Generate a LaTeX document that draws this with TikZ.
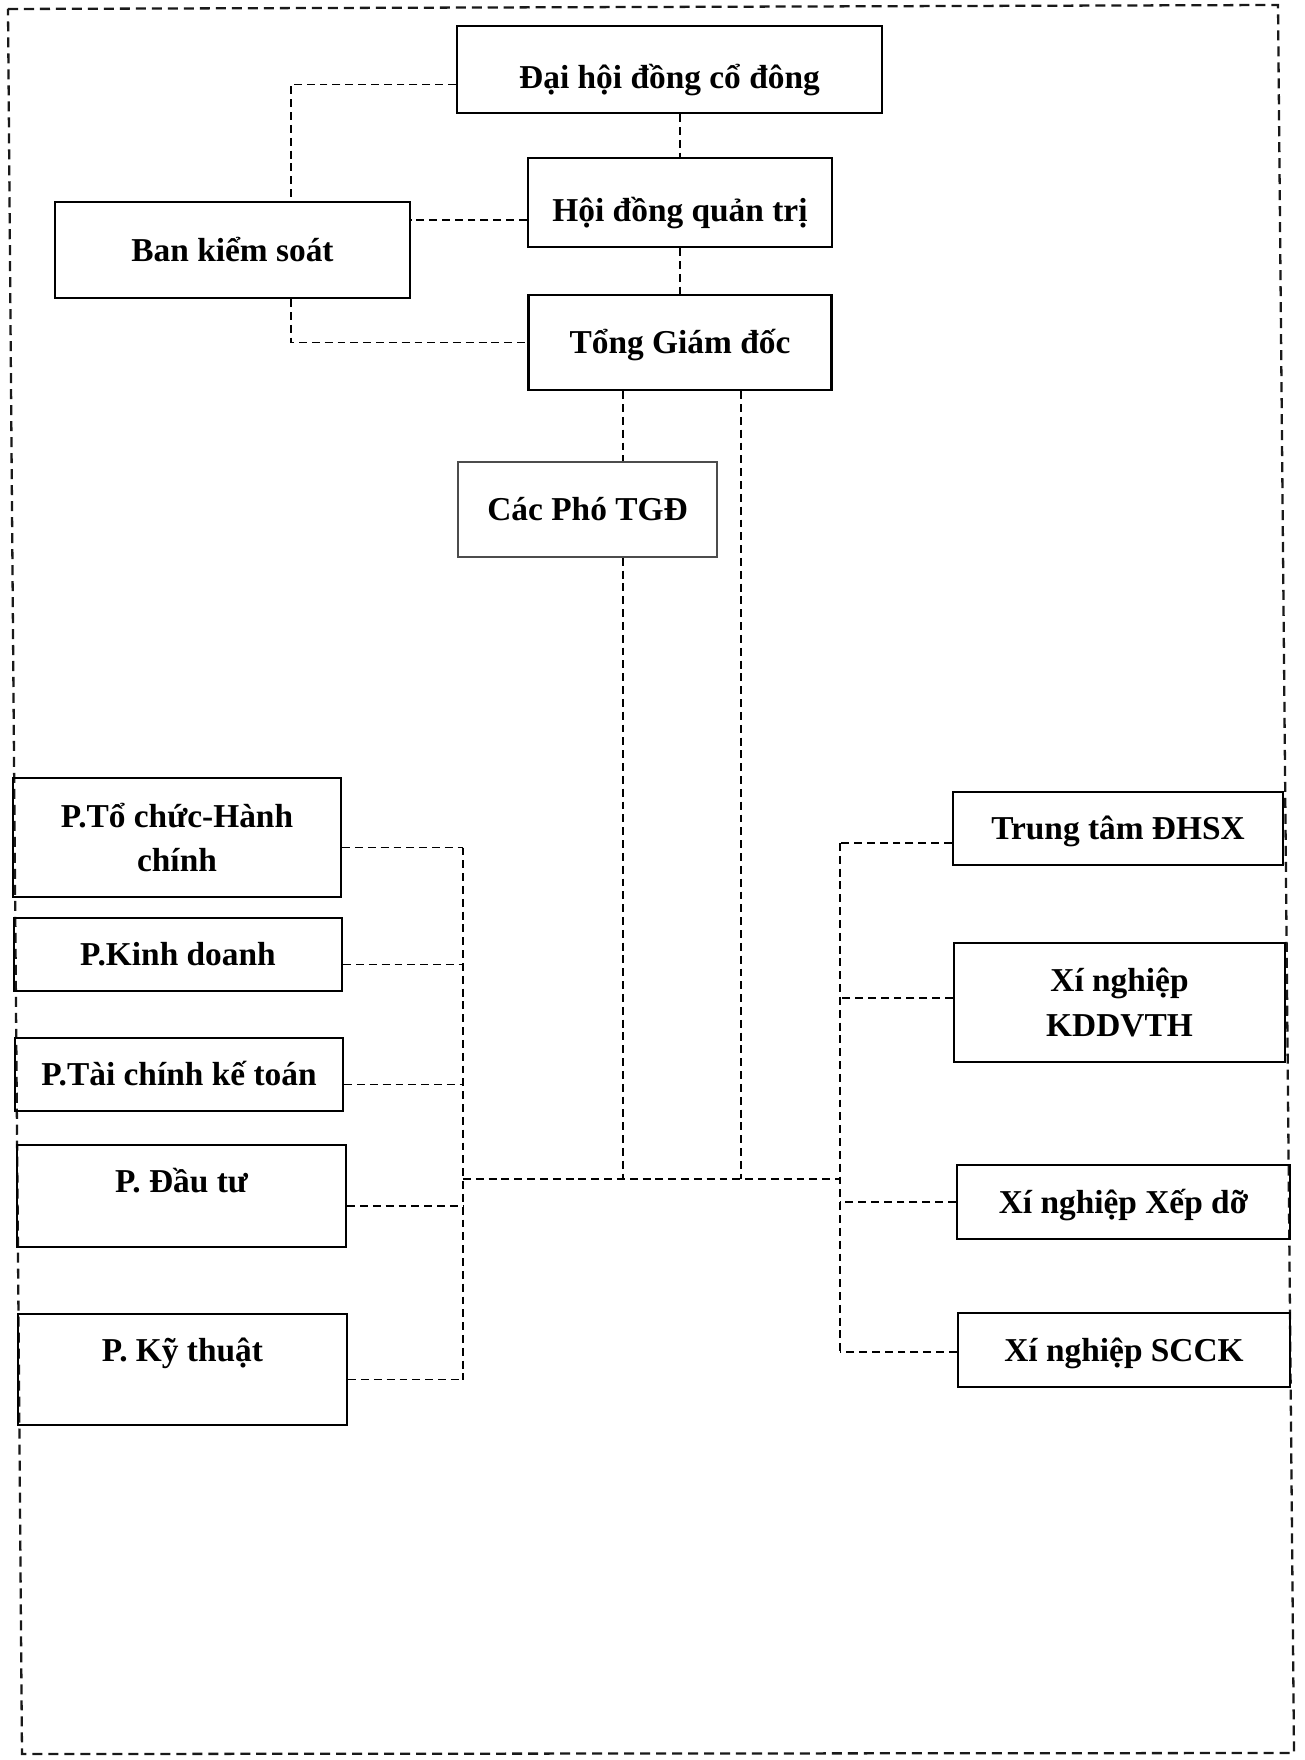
\documentclass[tikz,border=0pt]{standalone}
\usepackage{fontspec}
\setmainfont{Liberation Serif}
\usetikzlibrary{positioning}

\begin{document}
\begin{tikzpicture}[
  unit/.style={
    draw=black, line width=1.4pt, inner sep=0pt, align=center,
    font=\bfseries\fontsize{19}{25.5}\selectfont
  },
  single/.style={unit, text height=17pt, text depth=4.4pt},
  link/.style={draw=black, line width=1.1pt, dash pattern=on 4.5pt off 2.8pt},
  frame/.style={draw=black!90, line width=1.3pt, dash pattern=on 5.7pt off 3.4pt},
]
\useasboundingbox (0,0) rectangle (26.08,-35.2);

% outer dashed frame (the scan is a little tilted)
\draw[frame] (0.16,-0.18) -- (25.56,-0.10) -- (25.88,-35.06) -- (0.44,-35.08) -- cycle;

% management
\node[single, minimum width=8.5cm,  minimum height=1.74cm, text height=26pt] (dhcd) at (13.39,-1.39)  {Đại hội đồng cổ đông};
\node[single, minimum width=6.08cm, minimum height=1.78cm, text height=26pt] (hdqt) at (13.60,-4.05)  {Hội đồng quản trị};
\node[single, minimum width=7.1cm,  minimum height=1.92cm] (bks)  at (4.65,-5.00)   {Ban kiểm soát};
\node[single, minimum width=6.06cm, minimum height=1.90cm] (tgd)  at (13.60,-6.85)  {Tổng Giám đốc};
\node[single, minimum width=5.18cm, minimum height=1.90cm, draw=black!70, line width=0.9pt] (pho) at (11.75,-10.19) {Các Phó TGĐ};

% departments (left)
\node[unit,   minimum width=6.56cm, minimum height=2.38cm] (tchc) at (3.54,-16.75) {P.Tổ chức-Hành\\chính};
\node[single, minimum width=6.56cm, minimum height=1.46cm] (kd)   at (3.56,-19.09) {P.Kinh doanh};
\node[single, minimum width=6.56cm, minimum height=1.46cm] (tckt) at (3.58,-21.49) {P.Tài chính kế toán};
\node[single, minimum width=6.58cm, minimum height=2.04cm, text depth=20.8pt] (dt) at (3.63,-23.92) {P. Đầu tư};
\node[single, minimum width=6.58cm, minimum height=2.22cm, text depth=26.4pt] (kt) at (3.65,-27.39) {P. Kỹ thuật};

% units (right)
\node[single, minimum width=6.60cm, minimum height=1.46cm] (dhsx)   at (22.36,-16.57) {Trung tâm ĐHSX};
\node[unit,   minimum width=6.62cm, minimum height=2.38cm] (kddvth) at (22.39,-20.05) {Xí nghiệp\\KDDVTH};
\node[single, minimum width=6.66cm, minimum height=1.48cm] (xepdo)  at (22.47,-24.04) {Xí nghiệp Xếp dỡ};
\node[single, minimum width=6.64cm, minimum height=1.48cm] (scck)   at (22.48,-27.00) {Xí nghiệp SCCK};

% governance links
\draw[link] ([yshift=-0.3cm]dhcd.west) -| ([xshift=1.17cm]bks.north);
\draw[link] (hdqt.north |- dhcd.south) -- (hdqt.north);
\draw[link] (hdqt.south) -- (tgd.north);
\draw[link] ([yshift=-0.35cm]hdqt.west) -- ([yshift=-0.35cm]hdqt.west -| bks.east);
\draw[link] ([xshift=1.17cm]bks.south) |- (tgd.west);

% down to the bus
\coordinate (lbus) at (9.26,-23.58);
\coordinate (rbus) at (16.80,-23.58);
\coordinate (ptop) at ([xshift=0.71cm]pho.north);
\coordinate (pbot) at ([xshift=0.71cm]pho.south);
\coordinate (gbot) at ([xshift=1.22cm]tgd.south);
\draw[link] (ptop |- tgd.south) -- (ptop);
\draw[link] (pbot) -- (pbot |- lbus);
\draw[link] (gbot) -- (gbot |- rbus);
\draw[link] (lbus) -- (rbus);

% left column
\draw[link] ([yshift=-0.2cm]tchc.east -| lbus) -- ([yshift=-0.2cm]kt.east -| lbus);
\foreach \d in {tchc,kd,tckt,dt,kt}
  \draw[link] ([yshift=-0.2cm]\d.east) -- ([yshift=-0.2cm]\d.east -| lbus);

% right column
\draw[link] ([yshift=-0.29cm]dhsx.west -| rbus) -- ([yshift=-0.04cm]scck.west -| rbus);
\foreach \d/\s in {dhsx/-0.29, kddvth/0.09, xepdo/0, scck/-0.04}
  \draw[link] ([yshift=\s cm]\d.west) -- ([yshift=\s cm]\d.west -| rbus);

\end{tikzpicture}
\end{document}
